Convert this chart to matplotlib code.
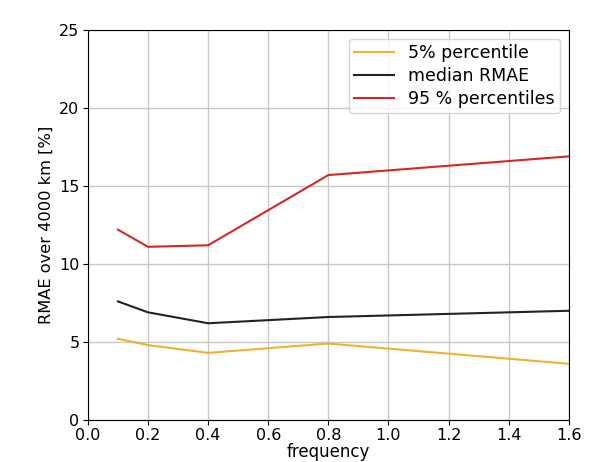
import matplotlib
matplotlib.use("Agg")
import matplotlib.pyplot as plt

frequency = [0.1, 0.2, 0.4, 0.8, 1.6]
p5 = [5.2, 4.8, 4.3, 4.9, 3.6]
median_rmae = [7.6, 6.9, 6.2, 6.6, 7.0]
p95 = [12.2, 11.1, 11.2, 15.7, 16.9]

fig = plt.figure(figsize=(5.9, 4.62), dpi=100)
ax = fig.add_axes([0.149, 0.091, 0.815, 0.844])

ax.plot(frequency, p5, color="#f0b030", lw=1.5, label="5% percentile")
ax.plot(frequency, median_rmae, color="#222222", lw=1.5, label="median RMAE")
ax.plot(frequency, p95, color="#d62728", lw=1.5, label="95 % percentiles")

ax.set_xlim(0.0, 1.6)
ax.set_ylim(0, 25)
ax.set_xticks([0.0, 0.2, 0.4, 0.6, 0.8, 1.0, 1.2, 1.4, 1.6])
ax.set_yticks([0, 5, 10, 15, 20, 25])
ax.tick_params(labelsize=11.5, pad=2.5)
ax.grid(True, color="#c8c8c8", lw=1)
ax.set_axisbelow(True)
ax.set_xlabel("frequency", fontsize=12, labelpad=0)
ax.set_ylabel("RMAE over 4000 km [%]", fontsize=11.7)
ax.legend(loc="upper right", fontsize=12.5, handlelength=2.3,
          handletextpad=0.8, labelspacing=0.29, borderpad=0.3)

fig.savefig("out.png", dpi=100)
